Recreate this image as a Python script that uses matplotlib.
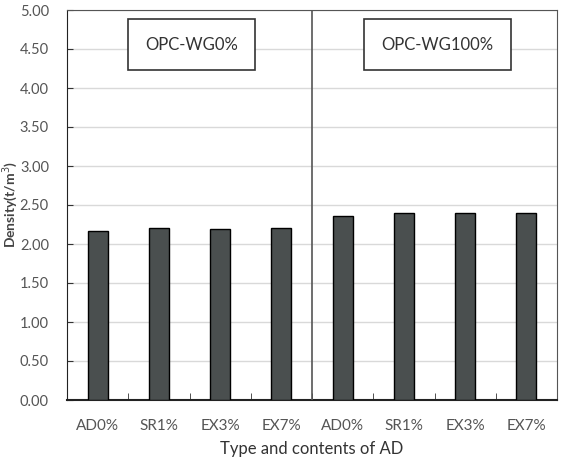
import matplotlib.pyplot as plt
import numpy as np

# data
labels = ["AD0%", "SR1%", "EX3%", "EX7%", "AD0%", "SR1%", "EX3%", "EX7%"]
density = [2.17, 2.21, 2.19, 2.21, 2.36, 2.40, 2.40, 2.40]
groups = ["OPC-WG0%", "OPC-WG100%"]
yticks = np.arange(0, 5.01, 0.5)

plt.rcParams["font.family"] = ["Lato", "DejaVu Sans"]

fig = plt.figure(figsize=(5.64, 4.58), dpi=100)
W, H = 564, 458
ax = fig.add_axes([67 / W, 1 - 400 / H, 490 / W, 390 / H])

x = np.arange(len(labels))
ax.bar(x, density, width=0.33, color="#4a4f4f", edgecolor="black", linewidth=1.0, zorder=3)

ax.set_xlim(-0.5, len(labels) - 0.5)
ax.set_ylim(0, 5)
ax.set_yticks(yticks)
ax.set_yticklabels([f"{v:.2f}" for v in yticks])
ax.yaxis.grid(True, color="#d9d9d9", linewidth=1.0, zorder=0)

# x tick labels at bar centres, small inward ticks at category boundaries
ax.set_xticks(x)
ax.set_xticklabels(labels)
ax.tick_params(axis="x", length=0, pad=14, labelsize=11, labelcolor="#555555")
ax.set_xticks(np.arange(0.5, len(labels) - 1, 1), minor=True)
ax.tick_params(axis="x", which="minor", direction="in", length=5, color="#333333")
ax.tick_params(axis="y", direction="in", length=4, labelsize=10.5, labelcolor="#555555",
               pad=13, color="#333333")

for side in ["top", "right"]:
    ax.spines[side].set_color("#555555")
ax.spines["left"].set_color("#222222")
ax.spines["bottom"].set_color("#222222")
ax.spines["bottom"].set_linewidth(1.5)

# divider between the two groups
ax.axvline(3.5, color="#555555", linewidth=1.2, zorder=4)

# group boxes
for g, cx in zip(groups, [191.5, 437.5]):
    ax.annotate(g, xy=(cx / W, 1 - 44.5 / H), xycoords="figure fraction",
                ha="center", va="center", fontsize=12, color="#333333",
                bbox=dict(boxstyle="square,pad=1.05", facecolor="white",
                          edgecolor="#333333", linewidth=1.2), zorder=5)

fig.text(10 / W, 1 - 205 / H, "Density(t/m$^3$)", rotation=90, ha="center", va="center",
         fontsize=10, fontweight="bold", color="#444444")
fig.text(312 / W, 1 - 449 / H, "Type and contents of AD", ha="center", va="center",
         fontsize=12, color="#333333")

fig.savefig("out.png", dpi=100)
